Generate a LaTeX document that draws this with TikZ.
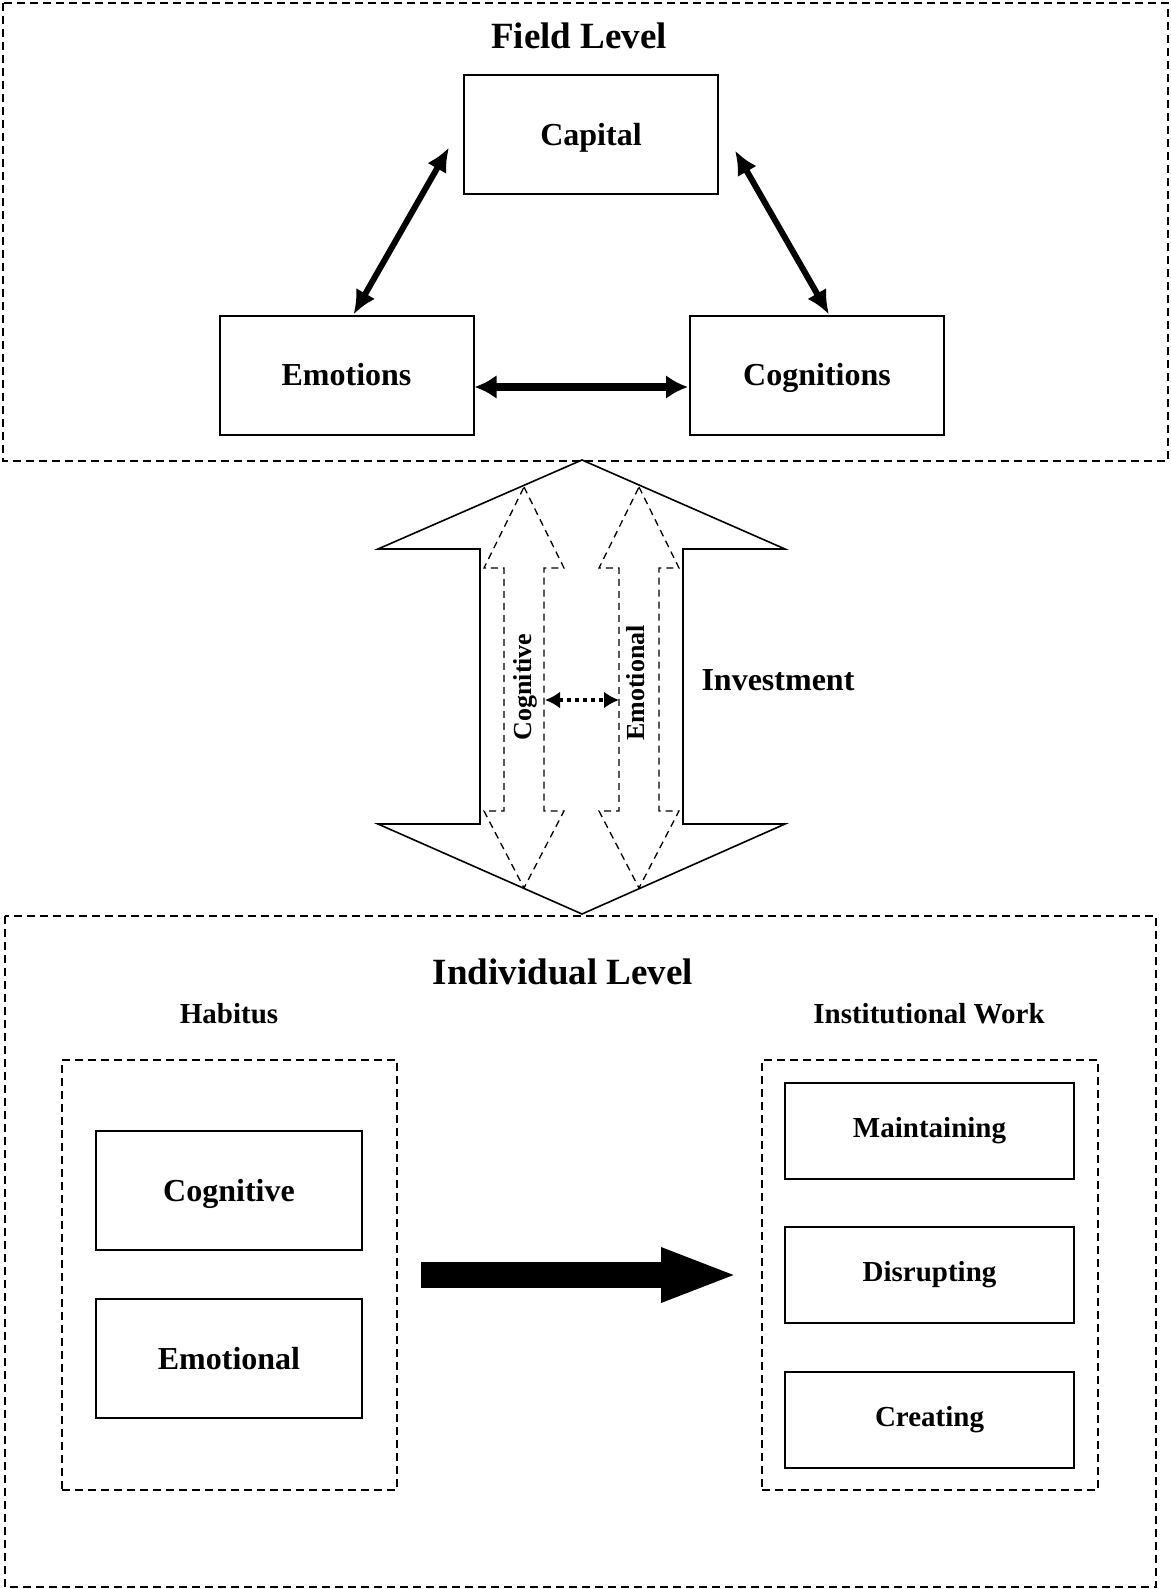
\documentclass[tikz,border=0pt]{standalone}
\usepackage{fontspec}
\setmainfont{Liberation Serif}
\usetikzlibrary{arrows.meta,calc}
\tikzset{>=Latex,every node/.style={font=\bfseries},
box/.style={draw,line width=2pt,minimum width=254pt,minimum height=119pt,text height=22pt,text depth=0.6pt,font=\fontsize{32}{38}\selectfont\bfseries},
sbox/.style={draw,line width=2pt,minimum width=289pt,minimum height=96pt,font=\fontsize{29}{34}\selectfont\bfseries},
frame/.style={line width=2pt,dash pattern=on 8pt off 5pt},
title/.style={font=\fontsize{37}{44}\selectfont\bfseries},
sub/.style={font=\fontsize{29}{34}\selectfont\bfseries},
link/.style={line width=6pt,{Latex[length=24pt,width=22pt]}-{Latex[length=24pt,width=22pt]}},
hlink/.style={line width=8pt,{Latex[length=22pt,width=24pt]}-{Latex[length=22pt,width=24pt]}},
dotlink/.style={line width=4pt,dash pattern=on 4pt off 4pt,{Latex[length=15pt,width=17pt]}-{Latex[length=15pt,width=17pt]}},
bigarr/.style={line width=26pt,-{Triangle[length=78pt,width=49pt]}}}
\begin{document}
\begin{tikzpicture}[x=1pt,y=-1pt]
\useasboundingbox (0,0) rectangle (1170,1589);
% field level
\draw[frame] (3,3) rectangle (1168,461);
\node[title] (ftitle) at (579,35.5) {Field Level};
\node[box] (cap) at (591,134.5) {Capital};
\node[box] (emo) at (346.5,375) {Emotions};
\node[box] (cog) at (817,375) {Cognitions};
\draw[link] ($(emo.north)+(7,0)$) -- ($(cap.west)+(-14,13)$);
\draw[link] ($(cap.east)+(16,16)$) -- ($(cog.north)+(12,0)$);
\draw[hlink] ($(emo.east)+(0,12)$) -- ($(cog.west)+(-1,12)$);
% investment arrow
\draw[line width=1.6pt,line join=miter] (582,460)--(785,549)--(683,549)--(683,824)--(785,824)--(582,914)--(378,824)--(480,824)--(480,549)--(378,549)--cycle;
\foreach \c/\n/\t/\lx/\ly in {524/cogl/Cognitive/525/687,639/emol/Emotional/636/683}{
\draw[line width=1.3pt,dash pattern=on 7pt off 5pt] (\c,487)--(\c+40,568)--(\c+20,568)--(\c+20,811)--(\c+40,811)--(\c,888)--(\c-40,811)--(\c-20,811)--(\c-20,568)--(\c-40,568)--cycle;
\node[rotate=90,font=\fontsize{26}{31}\selectfont\bfseries] (\n) at (\lx,\ly) {\t};}
\coordinate (cl) at (545,700);\coordinate (cr) at (619,700);
\draw[dotlink] (cl) -- (cr);
\node[anchor=west,font=\fontsize{32}{38}\selectfont\bfseries] (inv) at (698,680) {Investment};
% individual level
\draw[frame] (5,916) rectangle (1156,1587);
\node[title] (ititle) at (563,971.5) {Individual Level};
\node[sub] (habt) at (229,1014) {Habitus};
\node[sub] (instt) at (929,1014) {Institutional Work};
\node[frame,draw,minimum width=335pt,minimum height=430pt] (hab) at (229.5,1275) {};
\node[frame,draw,minimum width=336pt,minimum height=430pt] (inst) at (930,1275) {};
\node[box,minimum width=266pt] (hcog) at (229,1190.5) {Cognitive};
\node[box,minimum width=266pt] (hemo) at (229,1358.5) {Emotional};
\foreach \n/\y/\t in {main/1131/Maintaining,disr/1275/Disrupting,crea/1419.5/Creating}
\node[sbox] (\n) at (929.5,\y) {\t};
\draw[bigarr] ($(hab.east)+(23,0)$) -- ($(inst.west)+(-22,0)$);
\end{tikzpicture}
\end{document}
